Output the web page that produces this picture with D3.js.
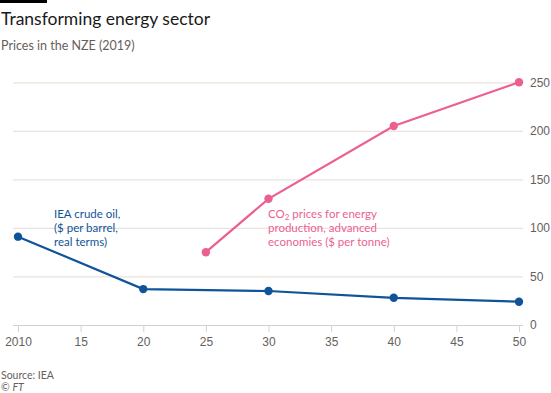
<!DOCTYPE html>
<html>
<head>
  <meta charset="utf-8">
  <title>Transforming energy sector</title>
  <script src="https://d3js.org/d3.v7.min.js"></script>
  <style>
    body { margin: 0; background: #fff; font-family: Lato, "Noto Sans", sans-serif; }
    .tick text { fill: #66605c; font-size: 12px; }
  </style>
</head>
<body>
  <script>
    // Data
    var oilYears = [2010, 2020, 2030, 2040, 2050];
    var oilValues = [91, 37, 35, 28, 24];
    var co2Years = [2025, 2030, 2040, 2050];
    var co2Values = [75, 130, 205, 250];
    var xTicks = [2010, 2015, 2020, 2025, 2030, 2035, 2040, 2045, 2050];
    var xTickLabels = ["2010", "15", "20", "25", "30", "35", "40", "45", "50"];
    var yTicks = [0, 50, 100, 150, 200, 250];

    var W = 551, H = 393;
    var blue = "#0f5499", pink = "#ec5f93";

    var svg = d3.select("body").append("svg")
      .attr("width", W)
      .attr("height", H);

    var x = d3.scaleLinear().domain([2010, 2050]).range([18, 519]);
    var y = d3.scaleLinear().domain([0, 250]).range([325, 82.3]);

    // header
    svg.append("rect").attr("x", 0).attr("y", 0).attr("width", 47).attr("height", 3).attr("fill", "#000");
    svg.append("text").attr("x", 1).attr("y", 25)
      .style("font-size", "17.5px").attr("fill", "#1a1a1a")
      .text("Transforming energy sector");
    svg.append("text").attr("x", 1).attr("y", 50)
      .style("font-size", "12.5px").attr("fill", "#66605c")
      .text("Prices in the NZE (2019)");

    // y grid + labels (right side)
    var yAxis = svg.append("g")
      .attr("transform", "translate(523,0)")
      .call(d3.axisRight(y).tickValues(yTicks).tickSize(-510).tickPadding(7));
    yAxis.select(".domain").remove();
    yAxis.selectAll(".tick line").attr("stroke", "#ebe3dc").attr("stroke-width", 1.2);
    yAxis.selectAll(".tick").filter(function(d) { return d === 0; }).select("line").attr("stroke", "#d8d0c8");

    // x axis
    var xAxis = svg.append("g")
      .attr("transform", "translate(0,325)")
      .call(d3.axisBottom(x).tickValues(xTicks)
        .tickFormat(function(d, i) { return xTickLabels[i]; })
        .tickSize(7).tickPadding(5));
    xAxis.select(".domain").remove();
    xAxis.selectAll(".tick line").attr("stroke", "#d8d0c8");

    var line = d3.line()
      .x(function(d) { return x(d[0]); })
      .y(function(d) { return y(d[1]); });

    function drawSeries(years, vals, color) {
      var pts = years.map(function(yr, i) { return [yr, vals[i]]; });
      svg.append("path").datum(pts)
        .attr("fill", "none").attr("stroke", color).attr("stroke-width", 2.2)
        .attr("d", line);
      svg.selectAll(null).data(pts).enter().append("circle")
        .attr("cx", function(d) { return x(d[0]); })
        .attr("cy", function(d) { return y(d[1]); })
        .attr("r", 4.2).attr("fill", color);
    }
    drawSeries(oilYears, oilValues, blue);
    drawSeries(co2Years, co2Values, pink);

    // annotations
    ["IEA crude oil,", "($ per barrel,", "real terms)"].forEach(function(t, i) {
      svg.append("text").attr("fill", blue).style("font-size", "11.5px")
        .attr("x", 54).attr("y", 218 + i * 14).text(t);
    });

    var l1 = svg.append("text").attr("fill", pink).style("font-size", "11.5px")
      .attr("x", 268).attr("y", 218);
    l1.append("tspan").text("CO");
    l1.append("tspan").attr("dy", 2).style("font-size", "8px").text("2");
    l1.append("tspan").attr("dy", -2).text(" prices for energy");
    ["production, advanced", "economies ($ per tonne)"].forEach(function(t, i) {
      svg.append("text").attr("fill", pink).style("font-size", "11.5px")
        .attr("x", 268).attr("y", 232 + i * 14).text(t);
    });

    // footer
    svg.append("text").attr("x", 1).attr("y", 379)
      .style("font-size", "10.5px").attr("fill", "#66605c").text("Source: IEA");
    var ft = svg.append("text").attr("x", 1).attr("y", 391)
      .style("font-size", "10.5px").attr("fill", "#66605c");
    ft.append("tspan").text("© ");
    ft.append("tspan").style("font-style", "italic").text("FT");
  </script>
</body>
</html>
